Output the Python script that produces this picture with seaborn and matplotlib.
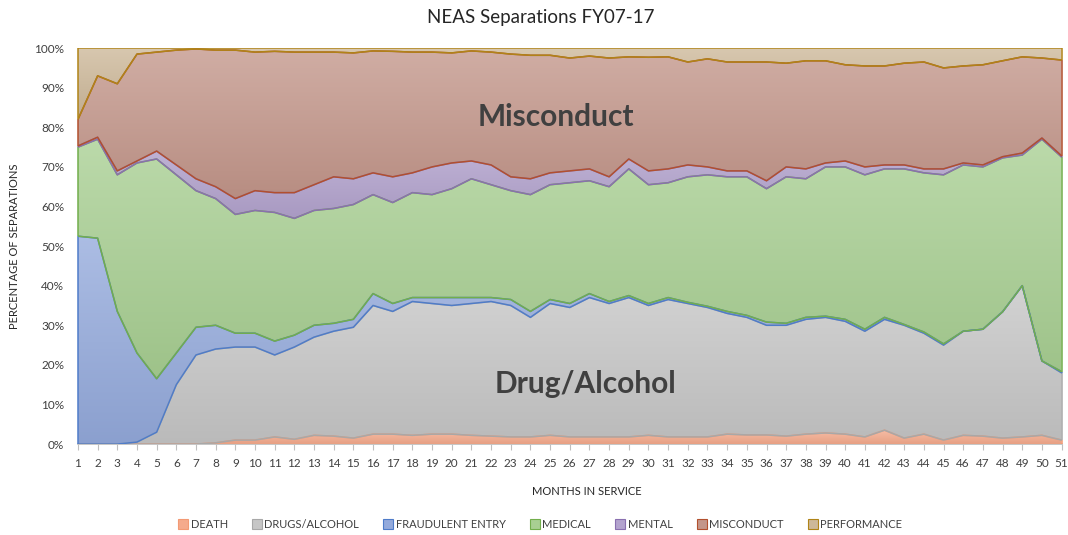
import matplotlib.pyplot as plt
import numpy as np
import pandas as pd
import seaborn as sns
from matplotlib.colors import LinearSegmentedColormap, to_rgb
from matplotlib.lines import Line2D

months = list(range(1, 52))

# share of separations (%) per month in service
death = [0, 0, 0, 0, 0, 0, 0, 0.3, 1, 1, 1.8, 1.2, 2.2, 2, 1.5, 2.5, 2.5, 2.2, 2.5, 2.5,
         2.2, 2, 1.8, 1.8, 2.2, 1.8, 1.8, 1.8, 1.8, 2.2, 1.8, 1.8, 1.8, 2.5, 2.3, 2.3, 2,
         2.5, 2.8, 2.5, 1.8, 3.5, 1.5, 2.5, 1, 2.2, 2, 1.5, 1.8, 2.2, 1]
drugs = [0, 0, 0, 0.5, 3, 15, 22.5, 23.7, 23.5, 23.5, 20.7, 23.3, 24.8, 26.5, 28, 32.5,
         31, 33.8, 33, 32.5, 33.3, 34, 33.2, 30.2, 33.3, 32.7, 35.2, 33.7, 35.2, 32.8,
         34.7, 33.7, 32.7, 30.5, 29.7, 27.7, 28, 29, 29.2, 28.5, 26.7, 28, 28.5, 25.5, 24,
         26.3, 27, 32, 38.2, 18.8, 17]
fraudulent = [52.5, 52, 33.5, 22.5, 13.5, 8, 7, 6, 3.5, 3.5, 3.5, 3, 3, 2, 2, 3, 2, 1,
              1.5, 2, 1.5, 1, 1.5, 1.5, 1, 1, 1, 0.5, 0.5, 0.5, 0.5, 0.3, 0.3, 0.5, 0.5,
              0.8, 0.5, 0.5, 0.3, 0.5, 0.5, 0.5, 0.2, 0.3, 0.3, 0, 0, 0, 0, 0, 0.3]
medical = [22.5, 25, 34.5, 48, 55.5, 45, 34.5, 32, 30, 31, 32.5, 29.5, 29, 29, 29, 25,
           25.5, 26.5, 26, 27.5, 30, 28.5, 27.5, 29.5, 29, 30.5, 28.5, 29, 32, 30, 29,
           31.7, 33.2, 34, 35, 33.7, 37, 35, 37.7, 38.5, 39, 37.5, 39.3, 40.2, 42.7, 42,
           41, 39, 33, 56, 54.2]
mental = [0.3, 0.5, 1, 0.5, 2, 2.5, 3, 3, 4, 5, 5, 6.5, 6.5, 8, 6.5, 5.5, 6.5, 5, 7, 6.5,
          4.5, 5, 3.5, 4, 3, 3, 3, 2.5, 2.5, 3.5, 3.5, 3, 2, 1.5, 1.5, 2, 2.5, 2.5, 1, 1.5,
          2, 1, 1, 1, 1.5, 0.5, 0.5, 0.3, 0.5, 0.3, 0.3]
misconduct = [6.7, 15.5, 22, 27, 25, 29, 32.8, 34.5, 37.5, 35, 35.7, 35.5, 33.5, 31.5,
              31.8, 30.8, 31.7, 30.5, 29, 27.8, 27.8, 28.5, 31, 31.2, 29.7, 28.5, 28.5,
              30, 25.8, 28.7, 28.3, 26, 27.3, 27.5, 27.5, 30, 26.2, 27.3, 25.8, 24.3,
              25.5, 25, 25.7, 27, 25.5, 24.5, 25.3, 24.3, 24.3, 20.2, 24.2]
performance = [18, 7, 9, 1.5, 1, 0.5, 0.2, 0.5, 0.5, 1, 0.8, 1, 1, 1, 1.2, 0.7, 0.8, 1,
               1, 1.2, 0.7, 1, 1.5, 1.8, 1.8, 2.5, 2, 2.5, 2.2, 2.3, 2.2, 3.5, 2.7, 3.5,
               3.5, 3.5, 3.8, 3.2, 3.2, 4.2, 4.5, 4.5, 3.8, 3.5, 5, 4.5, 4.2, 3.2, 2.2,
               2.5, 3]

series_names = ["DEATH", "DRUGS/ALCOHOL", "FRAUDULENT ENTRY", "MEDICAL", "MENTAL",
                "MISCONDUCT", "PERFORMANCE"]
fill_colors = ["#F5AA8C", "#C6C6C6", "#94AADC", "#A8CF92", "#B3A3CE", "#C3968A", "#CDB899"]
line_colors = ["#F39A74", "#A8A8A8", "#4F7CC9", "#72AE4C", "#8A70B0", "#B2502E", "#B08418"]

df = pd.DataFrame(
    dict(zip(series_names, [death, drugs, fraudulent, medical, mental, misconduct, performance])),
    index=months,
)
df = df.div(df.sum(axis=1), axis=0) * 100
tops = df.cumsum(axis=1)
bottoms = tops.shift(1, axis=1).fillna(0)

sns.set_theme(style="white")
plt.rcParams["font.family"] = ["Lato", "DejaVu Sans"]

fig = plt.figure(figsize=(10.68, 5.35), dpi=100)
ax = fig.add_axes([0.073, 0.170, 0.921, 0.740])

gradient = np.linspace(0, 1, 256).reshape(-1, 1)
for name, fc, lc in zip(series_names, fill_colors, line_colors):
    poly = ax.fill_between(months, bottoms[name], tops[name], facecolor="none", edgecolor="none")
    base = np.array(to_rgb(fc))
    cmap = LinearSegmentedColormap.from_list(name, [base * 0.94, base + (1 - base) * 0.22])
    lo, hi = bottoms[name].min(), tops[name].max()
    im = ax.imshow(gradient, extent=[1, 51, lo, max(hi, lo + 0.1)], origin="lower",
                   aspect="auto", cmap=cmap, zorder=1)
    im.set_clip_path(poly.get_paths()[0], transform=ax.transData)

# each area gets an outline; later series overwrite the shared edge, as in Excel
first, last = months[0], months[-1]
for name, lc in zip(series_names, line_colors):
    sns.lineplot(x=months, y=bottoms[name].values, color=lc, linewidth=1.1, ax=ax, zorder=3)
    sns.lineplot(x=months, y=tops[name].values, color=lc, linewidth=1.1, ax=ax, zorder=3)
    ax.vlines([first, last], [bottoms[name][first], bottoms[name][last]],
              [tops[name][first], tops[name][last]], color=lc, linewidth=1.1, zorder=3,
              clip_on=False)

ax.text(25.3, 82.6, "Misconduct", fontsize=21.5, fontweight="bold", color="#404040",
        ha="center", va="center", zorder=4)
ax.text(26.8, 15.2, "Drug/Alcohol", fontsize=21.5, fontweight="bold", color="#404040",
        ha="center", va="center", zorder=4)

ax.set_xlim(1, 51)
ax.set_ylim(0, 100)
ax.set_xticks(months)
ax.set_yticks(range(0, 101, 10))
ax.set_yticklabels([f"{v}%" for v in range(0, 101, 10)])
ax.tick_params(axis="x", bottom=True, length=4, width=0.8, color="#BFBFBF",
               labelsize=8.5, labelcolor="#404040", pad=6)
ax.tick_params(axis="y", left=False, labelsize=8.5, labelcolor="#404040", pad=4)
for side in ["left", "right", "top"]:
    ax.spines[side].set_visible(False)
ax.spines["bottom"].set_color("#BFBFBF")

fig.text(0.506, 0.968, "NEAS Separations FY07-17", ha="center", va="center",
         fontsize=13.5, color="#262626")
fig.text(0.014, 0.540, "PERCENTAGE OF SEPARATIONS", rotation=90, ha="center", va="center",
         fontsize=8, color="#262626")
fig.text(0.549, 0.082, "MONTHS IN SERVICE", ha="center", va="center",
         fontsize=8, color="#262626")

handles = [Line2D([], [], marker="s", linestyle="none", markersize=7,
                  markerfacecolor=fc, markeredgecolor=lc, markeredgewidth=0.8)
           for fc, lc in zip(fill_colors, line_colors)]
fig.legend(handles, series_names, loc="center", bbox_to_anchor=(0.506, 0.019), ncol=7,
           frameon=False, fontsize=8, columnspacing=2.2, handlelength=0.8,
           handletextpad=0.3, labelcolor="#404040")

fig.savefig("out.png", dpi=100)
